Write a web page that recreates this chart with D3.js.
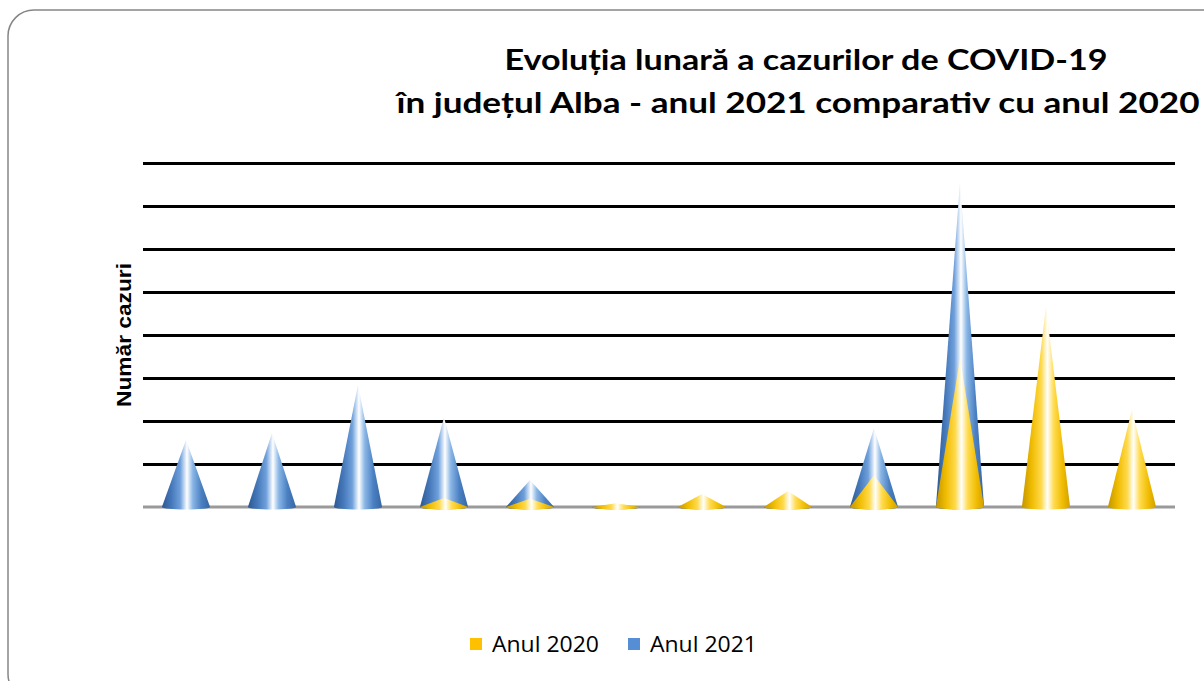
<!DOCTYPE html>
<html>
<head>
<meta charset="utf-8">
<script src="https://cdn.jsdelivr.net/npm/d3@7"></script>
<style>
  html, body { margin: 0; padding: 0; background: #fff; }
  svg { display: block; }
</style>
</head>
<body>
<svg id="chart" width="1204" height="681"></svg>
<script>
// month slots, 2020 and 2021 series (cases)
const months = ['Ian', 'Feb', 'Mar', 'Apr', 'Mai', 'Iun', 'Iul', 'Aug', 'Sep', 'Oct', 'Nov', 'Dec'];
const cases2020 = [0, 0, 0, 210, 190, 90, 300, 370, 740, 3460, 4670, 2260];
const cases2021 = [1560, 1720, 2840, 2090, 630, 60, 20, 60, 1840, 7560, 0, 0];
const gridTicks = [0, 1000, 2000, 3000, 4000, 5000, 6000, 7000, 8000];
const titleLines = ['Evoluția lunară a cazurilor de COVID-19', 'în județul Alba - anul 2021 comparativ cu anul 2020'];
const legendItems = [
    { label: 'Anul 2020', color: '#FFC000' },
    { label: 'Anul 2021', color: '#558ED5' },
];

const svg = d3.select('#chart');
const defs = svg.append('defs');

// shiny cone gradients
const grad = (id, stops) => {
    const g = defs.append('linearGradient').attr('id', id).attr('x1', 0).attr('x2', 1).attr('y1', 0).attr('y2', 0);
    stops.forEach(([o, c]) => g.append('stop').attr('offset', o).attr('stop-color', c));
};
grad('blueCone', [[0, '#2b5892'], [0.2, '#4679bb'], [0.38, '#6fa0dc'], [0.52, '#ffffff'], [0.64, '#8ab6e6'], [0.82, '#4a80c2'], [1, '#3766a2']]);
grad('goldCone', [[0, '#c49500'], [0.2, '#efbb00'], [0.4, '#ffd94a'], [0.53, '#ffffff'], [0.66, '#ffdc50'], [0.85, '#f0bb00'], [1, '#d09f00']]);

// frame
svg.append('rect')
    .attr('x', 8).attr('y', 10)
    .attr('width', 1220).attr('height', 690)
    .attr('rx', 26).attr('ry', 26)
    .attr('fill', '#fff')
    .attr('stroke', '#868686').attr('stroke-width', 1.5);

// title
svg.append('g').selectAll('text').data(titleLines).join('text')
    .attr('x', (d, i) => (i === 0 ? 806 : 798))
    .attr('y', (d, i) => 70 + i * 43)
    .attr('text-anchor', 'middle')
    .attr('font-family', 'Lato, "Open Sans", sans-serif')
    .attr('font-weight', 'bold')
    .attr('font-size', 29)
    .attr('textLength', (d, i) => (i === 0 ? 603 : 803))
    .attr('lengthAdjust', 'spacingAndGlyphs')
    .attr('fill', '#000')
    .text(d => d);

const x = d3.scaleBand().domain(months).range([143, 1175]);
const y = d3.scaleLinear().domain([0, 8000]).range([507, 163]);

// gridlines
const grid = svg.append('g')
    .attr('transform', 'translate(143,0)')
    .call(d3.axisLeft(y).tickValues(gridTicks.slice(1)).tickSize(-1032).tickFormat(''));
grid.select('.domain').remove();
grid.selectAll('.tick line').attr('stroke', '#000').attr('stroke-width', 3);

// baseline
svg.append('line')
    .attr('x1', 143).attr('x2', 1175)
    .attr('y1', y(0)).attr('y2', y(0))
    .attr('stroke', '#9a9a9a').attr('stroke-width', 3);

// y label
svg.append('text')
    .attr('transform', 'translate(131,335) rotate(-90)')
    .attr('text-anchor', 'middle')
    .attr('font-family', '"Liberation Sans", Arial, sans-serif')
    .attr('font-weight', 'bold')
    .attr('font-size', 20)
    .attr('textLength', 144)
    .attr('lengthAdjust', 'spacingAndGlyphs')
    .text('Număr cazuri');

// cones
const coneW = x.bandwidth() * 0.56;
const cone = (m, v) => {
    const cx = x(m) + x.bandwidth() / 2;
    const b = y(0), top = y(v), h = coneW / 2;
    return `M${cx - h},${b} L${cx},${top} L${cx + h},${b} A${h},2.5 0 0 1 ${cx - h},${b} Z`;
};
const drawSeries = (vals, fill) => {
    svg.append('g').selectAll('path')
        .data(months.map((m, i) => ({ m, v: vals[i] })).filter(d => d.v > 0))
        .join('path')
        .attr('d', d => cone(d.m, d.v))
        .attr('fill', fill);
};
drawSeries(cases2021, 'url(#blueCone)');
drawSeries(cases2020, 'url(#goldCone)');

// legend
const leg = svg.append('g').selectAll('g').data(legendItems).join('g')
    .attr('transform', (d, i) => `translate(${470 + i * 158},638)`);
leg.append('rect').attr('width', 12).attr('height', 12).attr('fill', d => d.color);
leg.append('text')
    .attr('x', 22).attr('y', 14)
    .attr('font-family', '"Open Sans", sans-serif')
    .attr('font-size', 21)
    .attr('textLength', 107)
    .attr('lengthAdjust', 'spacingAndGlyphs')
    .attr('fill', '#000')
    .text(d => d.label);
</script>
</body>
</html>
